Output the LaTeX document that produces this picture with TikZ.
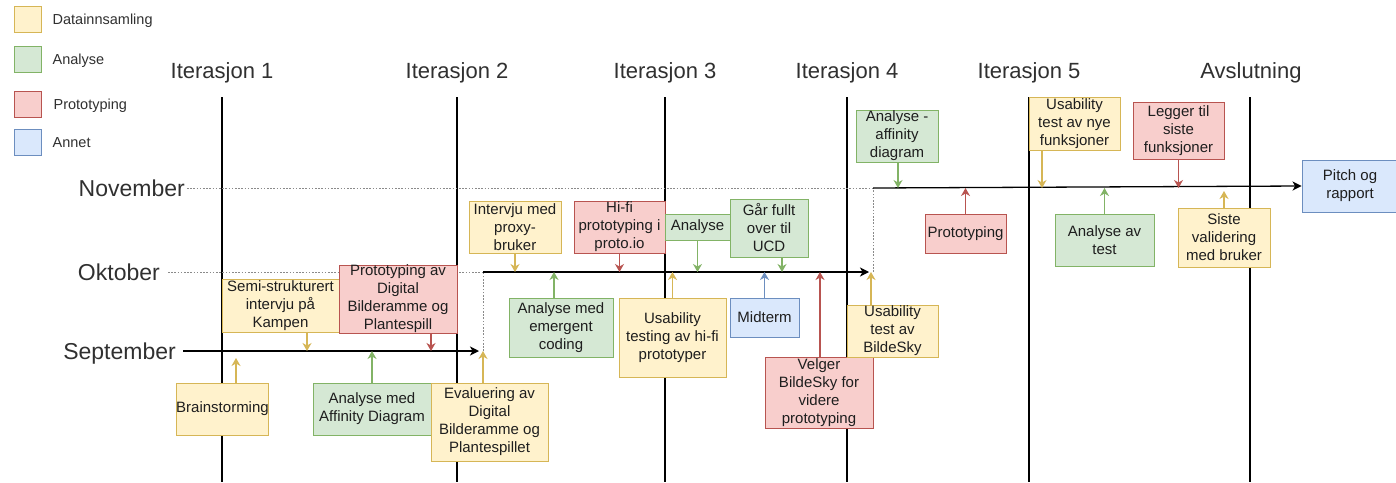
\documentclass[tikz,border=0pt]{standalone}
\usepackage{fontspec}
\setmainfont{Liberation Sans}
\usetikzlibrary{arrows.meta}
\pgfdeclarelayer{bg}
\pgfsetlayers{bg,main}
\definecolor{yfill}{HTML}{FFF2CC}\definecolor{ydraw}{HTML}{D6B656}
\definecolor{gfill}{HTML}{D5E8D4}\definecolor{gdraw}{HTML}{82B366}
\definecolor{rfill}{HTML}{F8CECC}\definecolor{rdraw}{HTML}{B85450}
\definecolor{bfill}{HTML}{DAE8FC}\definecolor{bdraw}{HTML}{6C8EBF}
\definecolor{txt}{HTML}{1E1E1E}
\definecolor{head}{HTML}{303030}
\definecolor{dotc}{HTML}{8A8A8A}
\begin{document}
\begin{tikzpicture}[x=1pt,y=-1pt,
  wh/.style 2 args={minimum width=#1pt, minimum height=#2pt},
  box/.style={draw, line width=0.9pt, inner sep=0pt, align=center, text=txt,
    font=\fontsize{15}{18}\selectfont},
  ybox/.style={box, fill=yfill, draw=ydraw},
  gbox/.style={box, fill=gfill, draw=gdraw},
  rbox/.style={box, fill=rfill, draw=rdraw},
  bbox/.style={box, fill=bfill, draw=bdraw},
  headlbl/.style={text=head, font=\fontsize{22}{26}\selectfont, text height=16pt, text depth=4.5pt, inner sep=0pt},
  monthlbl/.style={text=head, font=\fontsize{23}{27}\selectfont, text height=16.5pt, text depth=0pt, inner sep=0pt, anchor=east},
  leglbl/.style={text=head, font=\fontsize{14.5}{17}\selectfont, text height=10.5pt, text depth=0pt, inner sep=0pt, anchor=west},
  legsq/.style={line width=0.9pt, wh={27}{26}, inner sep=0pt},
  iterline/.style={line width=1.3pt, black},
  tl/.style={line width=1.3pt, black, -{Stealth[length=9pt,width=9pt,inset=2.5pt]}},
  dotl/.style={line width=0.8pt, dotc, dash pattern=on 1.6pt off 1.6pt},
  conn/.style={line width=1.2pt, -{Stealth[length=8pt,width=9pt,inset=2.5pt]}},
  yarr/.style={conn, draw=ydraw},
  garr/.style={conn, draw=gdraw},
  rarr/.style={conn, draw=rdraw},
  barr/.style={conn, draw=bdraw}
]
\useasboundingbox (0,0) rectangle (1396,482);

% legend
\node[legsq, fill=yfill, draw=ydraw] (lg1) at (27.5,19.5) {};
\node[legsq, fill=gfill, draw=gdraw] (lg2) at (27.5,59) {};
\node[legsq, fill=rfill, draw=rdraw] (lg3) at (27.5,104) {};
\node[legsq, fill=bfill, draw=bdraw] (lg4) at (27.5,142.5) {};
\node[leglbl] at ([xshift=11pt]lg1.east) {Datainnsamling};
\node[leglbl] at ([xshift=11pt]lg2.east) {Analyse};
\node[leglbl] at ([xshift=12pt]lg3.east) {Prototyping};
\node[leglbl] at ([xshift=11pt]lg4.east) {Annet};

% headings
\node[headlbl] (it1) at (222,73) {Iterasjon 1};
\node[headlbl] (it2) at (457,73) {Iterasjon 2};
\node[headlbl] (it3) at (665,73) {Iterasjon 3};
\node[headlbl] (it4) at (847,73) {Iterasjon 4};
\node[headlbl] (it5) at (1029,73) {Iterasjon 5};
\node[headlbl] (it6) at (1251,73) {Avslutning};

% month labels
\node[monthlbl] (nov) at (185,188) {November};
\node[monthlbl] (okt) at (160,272) {Oktober};
\node[monthlbl] (sep) at (176,351) {September};

% timeline coordinates
\coordinate (sepA) at (183,351);
\coordinate (sepB) at (483,351);
\coordinate (octA) at (483,272);
\coordinate (octB) at (873,272);
\coordinate (novA) at (873,188);

% iteration tops/bottoms
\foreach \n/\x in {1/222,2/457,3/665,4/847,5/1029,6/1250}{
  \coordinate (t\n) at (\x,97);
  \coordinate (b\n) at (\x,482);
}

% boxes
\node[ybox, wh={117}{53}] (semi) at (280.5,305.5) {Semi-strukturert\\intervju på\\Kampen};
\node[rbox, wh={118}{66}] (protoav) at (398,299) {Prototyping av\\Digital\\Bilderamme og\\Plantespill};
\node[ybox, wh={91}{52}] (brain) at (222.5,409) {Brainstorming};
\node[gbox, wh={118}{52}] (affdiag) at (372,409) {Analyse med\\Affinity Diagram};
\node[ybox, wh={117}{78}] (eval) at (489.5,422) {Evaluering av\\Digital\\Bilderamme og\\Plantespillet};
\node[ybox, wh={92}{52}] (intervju) at (515,227) {Intervju med\\proxy-\\bruker};
\node[gbox, wh={104}{59}] (emergent) at (561,327.5) {Analyse med\\emergent\\coding};
\node[rbox, wh={91}{52}] (hifi) at (619.5,227) {Hi-fi\\prototyping i\\proto.io};
\node[gbox, wh={65}{26}] (analyse) at (697.5,227) {Analyse};
\node[gbox, wh={78}{58}] (ucd) at (769,228) {Går fullt\\over til\\UCD};
\node[ybox, wh={107}{79}] (usabhifi) at (672.5,337.5) {Usability\\testing av hi-fi\\prototyper};
\node[bbox, wh={69}{39}] (midterm) at (764.5,317.5) {Midterm};
\node[rbox, wh={108}{71}] (velger) at (819,392.5) {Velger\\BildeSky for\\videre\\prototyping};
\node[ybox, wh={91}{52}] (usabbs) at (892.5,331) {Usability\\test av\\BildeSky};
\node[gbox, wh={82}{52}] (affan) at (897,136) {Analyse -\\affinity\\diagram};
\node[rbox, wh={81}{39}] (proto) at (965.5,233.5) {Prototyping};
\node[ybox, wh={91}{53}] (usabnye) at (1074.5,123.5) {Usability\\test av nye\\funksjoner};
\node[gbox, wh={99}{52}] (antest) at (1104.5,240) {Analyse av\\test};
\node[rbox, wh={91}{57}] (legger) at (1178.5,130.5) {Legger til\\siste\\funksjoner};
\node[ybox, wh={92}{59}] (siste) at (1224,237.5) {Siste\\validering\\med bruker};
\node[bbox, wh={96}{52}] (pitch) at (1350,186) {Pitch og\\rapport};

% background lines
\begin{pgfonlayer}{bg}
  \foreach \n in {1,...,6}{\draw[iterline] (t\n) -- (b\n);}
  \draw[dotl] ([xshift=2pt]nov.east |- novA) -- (novA);
  \draw[dotl] ([xshift=8pt]okt.east |- octA) -- (octA);
  \draw[dotl] (sepB) -- (octA);
  \draw[dotl] (octB) -- (novA);
  \draw[tl] (sepA) -- ([xshift=-4pt]sepB);
  \draw[tl] (octA) -- ([xshift=-4pt]octB);
  \draw[tl] (novA) -- (pitch.west);
\end{pgfonlayer}

% connectors to the timeline
\draw[yarr] ([xshift=26.5pt]semi.south) -- ([xshift=26.5pt]semi.south |- sepA);
\draw[rarr] ([xshift=33pt]protoav.south) -- ([xshift=33pt]protoav.south |- sepA);
\draw[yarr, shorten >=7pt] ([xshift=13.5pt]brain.north) -- ([xshift=13.5pt]brain.north |- sepA);
\draw[garr] (affdiag.north) -- (affdiag.north |- sepA);
\draw[yarr] ([xshift=-6.5pt]eval.north) -- ([xshift=-6.5pt]eval.north |- sepA);

\draw[yarr] (intervju.south) -- (intervju.south |- octA);
\draw[garr] ([xshift=-7pt]emergent.north) -- ([xshift=-7pt]emergent.north |- octA);
\draw[rarr] (hifi.south) -- (hifi.south |- octA);
\draw[garr] (analyse.south) -- (analyse.south |- octA);
\draw[garr] ([xshift=13pt]ucd.south) -- ([xshift=13pt]ucd.south |- octA);
\draw[yarr] (usabhifi.north) -- (usabhifi.north |- octA);
\draw[barr] (midterm.north) -- (midterm.north |- octA);
\draw[rarr] ([xshift=1pt]velger.north) -- ([xshift=1pt]velger.north |- octA);
\draw[yarr] ([xshift=-21.5pt]usabbs.north) -- ([xshift=-21.5pt]usabbs.north |- octA);

\draw[garr] ([xshift=1pt]affan.south) -- ([xshift=1pt]affan.south |- novA);
\draw[rarr] (proto.north) -- (proto.north |- novA);
\draw[yarr] ([xshift=-32.5pt]usabnye.south) -- ([xshift=-32.5pt]usabnye.south |- novA);
\draw[garr] (antest.north) -- (antest.north |- novA);
\draw[rarr] (legger.south) -- (legger.south |- novA);
\draw[yarr, shorten >=3pt] (siste.north) -- (siste.north |- novA);
\end{tikzpicture}
\end{document}
